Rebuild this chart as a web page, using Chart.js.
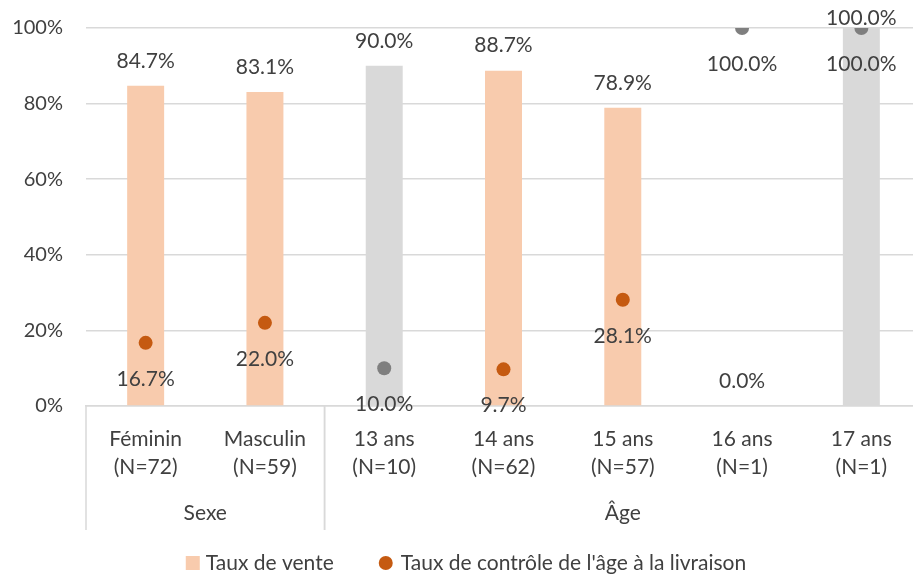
<!DOCTYPE html>
<html>
<head>
<meta charset="utf-8">
<script src="https://cdn.jsdelivr.net/npm/chart.js@4"></script>
<style>
  html, body { margin: 0; padding: 0; background: #fff; overflow: hidden; }
  #wrap { width: 928px; height: 577px; }
</style>
</head>
<body>
<div id="wrap"><canvas id="myChart"></canvas></div>
<script>
const categories = [
    ['Féminin', '(N=72)'],
    ['Masculin', '(N=59)'],
    ['13 ans', '(N=10)'],
    ['14 ans', '(N=62)'],
    ['15 ans', '(N=57)'],
    ['16 ans', '(N=1)'],
    ['17 ans', '(N=1)']
];
const groups = [
    { label: 'Sexe', from: 0, to: 1 },
    { label: 'Âge', from: 2, to: 6 }
];
const tauxVente = [84.7, 83.1, 90.0, 88.7, 78.9, 0.0, 100.0];
const tauxControle = [16.7, 22.0, 10.0, 9.7, 28.1, 100.0, 100.0];
const barColors = ['#F8CBAD', '#F8CBAD', '#D9D9D9', '#F8CBAD', '#F8CBAD', '#F8CBAD', '#D9D9D9'];
const pointColors = ['#C55A11', '#C55A11', '#7F7F7F', '#C55A11', '#C55A11', '#7F7F7F', '#7F7F7F'];

const FONT = 'Lato, "Liberation Sans", sans-serif';
const TXT = '#404040';
const fmt = v => v.toFixed(1) + '%';

const dataLabels = {
    id: 'dataLabels',
    afterDatasetsDraw(chart) {
        const ctx = chart.ctx;
        ctx.save();
        ctx.font = '21px ' + FONT;
        ctx.fillStyle = TXT;
        ctx.textAlign = 'center';
        ctx.textBaseline = 'middle';
        chart.getDatasetMeta(0).data.forEach((el, i) => {
            ctx.fillText(fmt(tauxVente[i]), el.x, Math.max(el.y - 25, 18));
        });
        chart.getDatasetMeta(1).data.forEach((el, i) => {
            ctx.fillText(fmt(tauxControle[i]), el.x, el.y + 36);
        });
        ctx.restore();
    }
};

// two-level axis (Sexe / Âge) and a hand-drawn legend
const groupAxis = {
    id: 'groupAxis',
    afterDraw(chart) {
        const ctx = chart.ctx;
        const x = chart.scales.x;
        const top = chart.chartArea.bottom;
        const half = (x.getPixelForValue(1) - x.getPixelForValue(0)) / 2;
        ctx.save();
        ctx.strokeStyle = '#D9D9D9';
        ctx.lineWidth = 1.5;
        ctx.font = '21px ' + FONT;
        ctx.fillStyle = TXT;
        ctx.textAlign = 'center';
        ctx.textBaseline = 'middle';
        groups.forEach(g => {
            const l = x.getPixelForValue(g.from) - half;
            const r = x.getPixelForValue(g.to) + half;
            [l, r].forEach(px => {
                ctx.beginPath();
                ctx.moveTo(px, top);
                ctx.lineTo(px, top + 124);
                ctx.stroke();
            });
            ctx.fillText(g.label, (l + r) / 2, top + 107);
        });

        // legend
        const names = chart.data.datasets.map(d => d.label);
        ctx.font = '21px ' + FONT;
        ctx.textAlign = 'left';
        const w0 = ctx.measureText(names[0]).width;
        const w1 = ctx.measureText(names[1]).width;
        const total = 14 + 6 + w0 + 45 + 14 + 8 + w1;
        let lx = chart.width / 2 + 2 - total / 2;
        const ly = 563;
        ctx.fillStyle = '#F8CBAD';
        ctx.fillRect(lx, ly - 7, 14, 14);
        lx += 20;
        ctx.fillStyle = TXT;
        ctx.fillText(names[0], lx, ly);
        lx += w0 + 45;
        ctx.fillStyle = '#C55A11';
        ctx.beginPath();
        ctx.arc(lx + 7, ly, 7, 0, Math.PI * 2);
        ctx.fill();
        lx += 22;
        ctx.fillStyle = TXT;
        ctx.fillText(names[1], lx, ly);
        ctx.restore();
    }
};

new Chart(document.getElementById('myChart'), {
    data: {
        labels: categories,
        datasets: [
            {
                type: 'bar',
                label: 'Taux de vente',
                data: tauxVente,
                backgroundColor: barColors,
                barPercentage: 0.31,
                categoryPercentage: 1,
                order: 2
            },
            {
                type: 'line',
                label: "Taux de contrôle de l'âge à la livraison",
                data: tauxControle,
                showLine: false,
                pointRadius: 7,
                pointHoverRadius: 7,
                pointBackgroundColor: pointColors,
                pointBorderWidth: 0,
                backgroundColor: '#C55A11',
                borderColor: '#C55A11',
                order: 1
            }
        ]
    },
    options: {
        responsive: true,
        maintainAspectRatio: false,
        animation: false,
        layout: { padding: { top: 28, left: 0, right: 0, bottom: 44 } },
        scales: {
            x: {
                grid: { display: false },
                border: { color: '#D9D9D9', width: 1.5 },
                ticks: { color: TXT, font: { family: FONT, size: 21, lineHeight: 1.33 }, padding: 11, maxRotation: 0 },
                afterFit(scale) { scale.height = 127; }
            },
            y: {
                min: 0,
                max: 100,
                grid: { color: '#D9D9D9', lineWidth: 1.5, drawTicks: false },
                border: { display: false },
                ticks: {
                    stepSize: 20,
                    padding: 23,
                    color: TXT,
                    font: { family: FONT, size: 20 },
                    callback: v => v + '%'
                },
                afterFit(scale) {
                    scale.width = 86;
                    scale.paddingTop = 0;
                    scale.paddingBottom = 0;
                }
            }
        },
        plugins: {
            legend: { display: false },
            tooltip: { enabled: false }
        }
    },
    plugins: [dataLabels, groupAxis]
});
</script>
</body>
</html>
